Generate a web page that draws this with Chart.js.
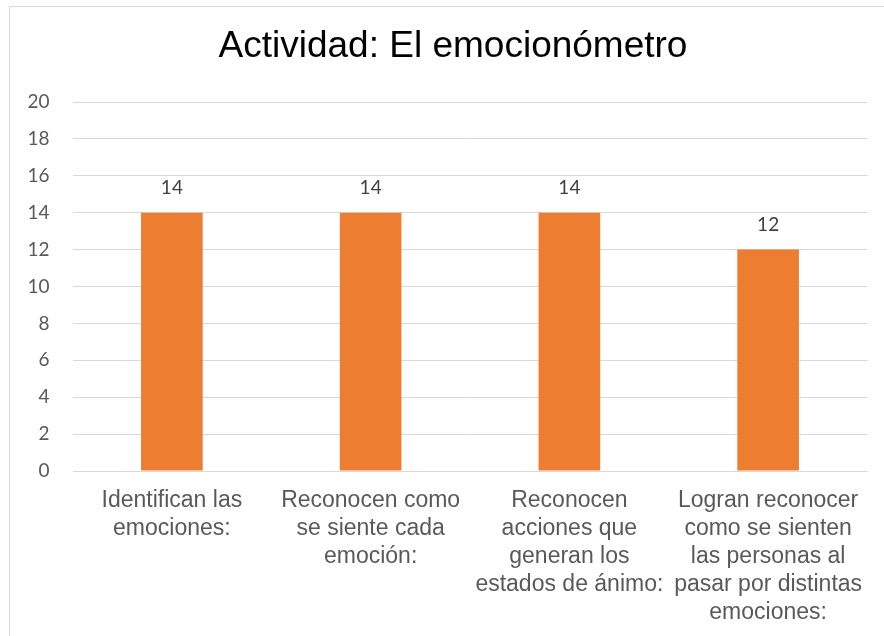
<!DOCTYPE html>
<html>
<head>
<meta charset="utf-8">
<script src="https://cdn.jsdelivr.net/npm/chart.js@4"></script>
<style>
  html, body { margin: 0; padding: 0; background: #fff; overflow: hidden; width: 884px; height: 636px; }
  #frame { position: absolute; left: 9px; top: 6px; width: 886px; height: 640px; border: 1px solid #d9d9d9; }
  #chart { display: block; }
</style>
</head>
<body>
<div id="frame"><canvas id="chart" width="886" height="640"></canvas></div>
<script>
const categories = [
    ['Identifican las', 'emociones:'],
    ['Reconocen como', 'se siente cada', 'emoción:'],
    ['Reconocen', 'acciones que', 'generan los', 'estados de ánimo:'],
    ['Logran reconocer', 'como se sienten', 'las personas al', 'pasar por distintas', 'emociones:']
];
const values = [14, 14, 14, 12];
const yTicks = [0, 2, 4, 6, 8, 10, 12, 14, 16, 18, 20];

// labels over each bar
const barLabels = {
    id: 'barLabels',
    afterDatasetsDraw(chart) {
        const ctx = chart.ctx;
        const meta = chart.getDatasetMeta(0);
        ctx.save();
        ctx.font = '19px Lato';
        ctx.fillStyle = '#404040';
        ctx.textAlign = 'center';
        ctx.textBaseline = 'middle';
        meta.data.forEach((bar, i) => {
            ctx.fillText(String(values[i]), bar.x, bar.y - 25);
        });
        ctx.restore();
    }
};

new Chart(document.getElementById('chart').getContext('2d'), {
    type: 'bar',
    data: {
        labels: categories,
        datasets: [{
            data: values,
            backgroundColor: '#ed7d31',
            borderWidth: 0,
            categoryPercentage: 1,
            barPercentage: 0.31
        }]
    },
    options: {
        responsive: false,
        animation: false,
        layout: { padding: { left: 0, right: 0, top: 0, bottom: 4 } },
        plugins: {
            legend: { display: false },
            tooltip: { enabled: false },
            title: {
                display: true,
                text: 'Actividad: El emocionómetro',
                color: '#000',
                font: { family: 'Liberation Sans', size: 37, weight: 'normal', lineHeight: 1.2 },
                padding: { top: 17.8, bottom: 32.8 }
            }
        },
        scales: {
            x: {
                grid: { display: false, drawTicks: false },
                border: { display: false },
                ticks: {
                    color: '#595959',
                    font: { family: 'Liberation Sans', size: 23, lineHeight: '28px' },
                    padding: 16,
                    maxRotation: 0,
                    minRotation: 0,
                    autoSkip: false
                }
            },
            y: {
                min: 0,
                max: 20,
                afterBuildTicks: scale => { scale.ticks = yTicks.map(v => ({ value: v })); },
                afterFit: scale => { scale.width = 62.5; },
                grid: { color: '#d9d9d9', lineWidth: 1, drawTicks: false },
                border: { display: false },
                ticks: {
                    color: '#595959',
                    font: { family: 'Lato', size: 19 },
                    padding: 23
                }
            },
            // empty right-hand gutter so the title stays centred on the whole frame
            gutter: {
                type: 'linear',
                position: 'right',
                grid: { display: false, drawTicks: false },
                border: { display: false },
                ticks: { display: false },
                afterFit: scale => { scale.width = 28.5; }
            }
        }
    },
    plugins: [barLabels]
});
</script>
</body>
</html>
